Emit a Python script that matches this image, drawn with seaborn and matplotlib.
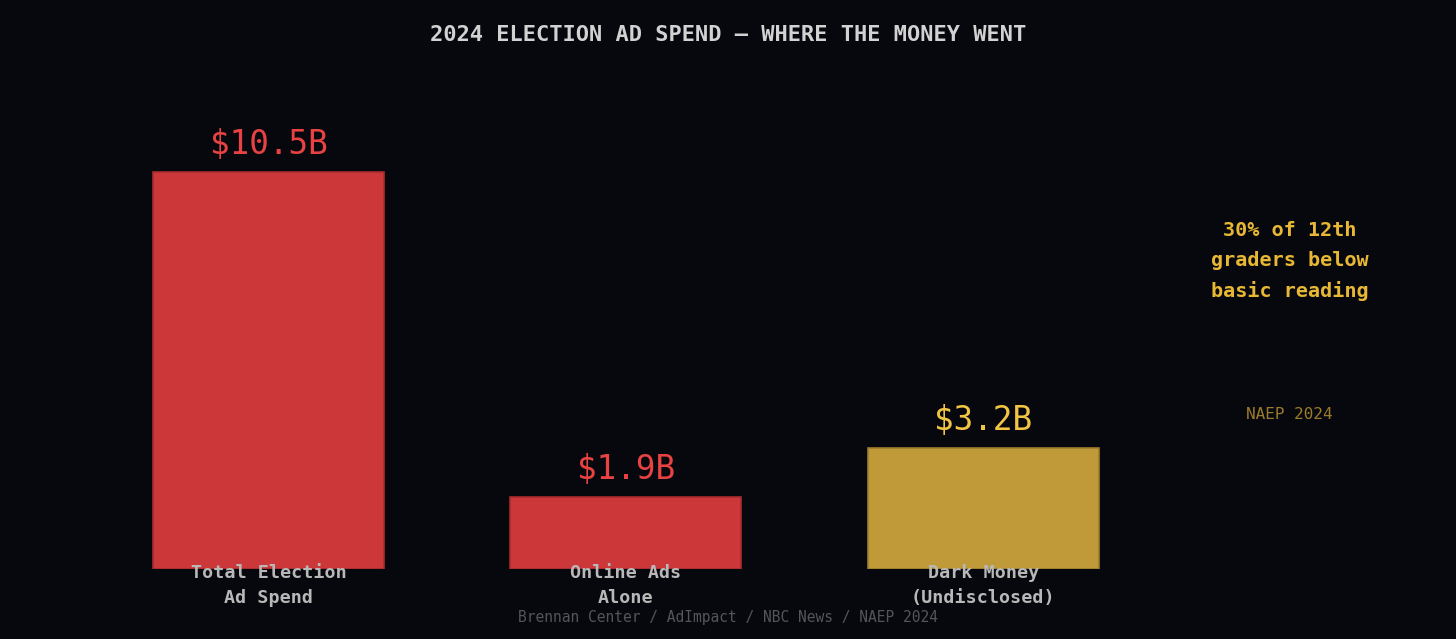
import matplotlib
matplotlib.use("Agg")
import matplotlib.pyplot as plt
import matplotlib.transforms as mtransforms
import seaborn as sns
import pandas as pd

# data
categories = ["Total Election\nAd Spend", "Online Ads\nAlone", "Dark Money\n(Undisclosed)"]
values = [10.5, 1.9, 3.2]
value_labels = ["$10.5B", "$1.9B", "$3.2B"]
bar_colors = ["#cc383a", "#cc383a", "#c09a38"]
label_colors = ["#e84242", "#e84242", "#f2c444"]
edge_colors = ["#a82c2e", "#a82c2e", "#9c7c2c"]

BG = "#07080d"

sns.set_theme(style="dark")
plt.rcParams["font.family"] = ["DejaVu Sans Mono", "DejaVu Sans"]

fig = plt.figure(figsize=(14.56, 6.39), dpi=100, facecolor=BG)
ax = fig.add_axes([0, 0.1095, 1, 0.7966])
ax.set_facecolor(BG)

df = pd.DataFrame({"category": categories, "value": values})
sns.barplot(data=df, x="category", y="value", hue="category",
            palette=bar_colors, legend=False, width=0.646, ax=ax,
            linewidth=1.2, saturation=1)

for patch, ec in zip(ax.patches, edge_colors):
    patch.set_edgecolor(ec)

for i, (v, lab, c) in enumerate(zip(values, value_labels, label_colors)):
    ax.annotate(lab, (i, v), xytext=(0, 8), textcoords="offset points",
                ha="center", va="bottom", fontsize=23.5, color=c)

# category labels drawn over the bar bottoms
trans = mtransforms.blended_transform_factory(ax.transData, ax.transAxes)
for i, cat in enumerate(categories):
    ax.text(i, 0.009, cat, transform=trans, ha="center", va="top",
            fontsize=13.2, fontweight="bold", color="#b8b8b8",
            linespacing=1.45, zorder=5)

ax.set_xlim(-0.751, 3.322)
ax.set_ylim(0, 13.47)
ax.set_xlabel("")
ax.set_ylabel("")
ax.set_xticks([])
ax.set_yticks([])
for s in ax.spines.values():
    s.set_visible(False)
ax.grid(False)

# side note
ax.text(2.857, 8.15, "30% of 12th\ngraders below\nbasic reading", ha="center", va="center",
        fontsize=14.5, fontweight="bold", color="#e8b834", linespacing=1.7)
ax.text(2.857, 4.1, "NAEP 2024", ha="center", va="center", fontsize=11.5, color="#9c7a2c")

fig.text(0.5, 0.946, "2024 ELECTION AD SPEND \u2014 WHERE THE MONEY WENT", ha="center", va="center",
         fontsize=15.8, fontweight="bold", color="#d2d2d2")
fig.text(0.5, 0.034, "Brennan Center / AdImpact / NBC News / NAEP 2024", ha="center", va="center",
         fontsize=10.5, color="#555558")

fig.savefig("out.png", dpi=100, facecolor=BG)
